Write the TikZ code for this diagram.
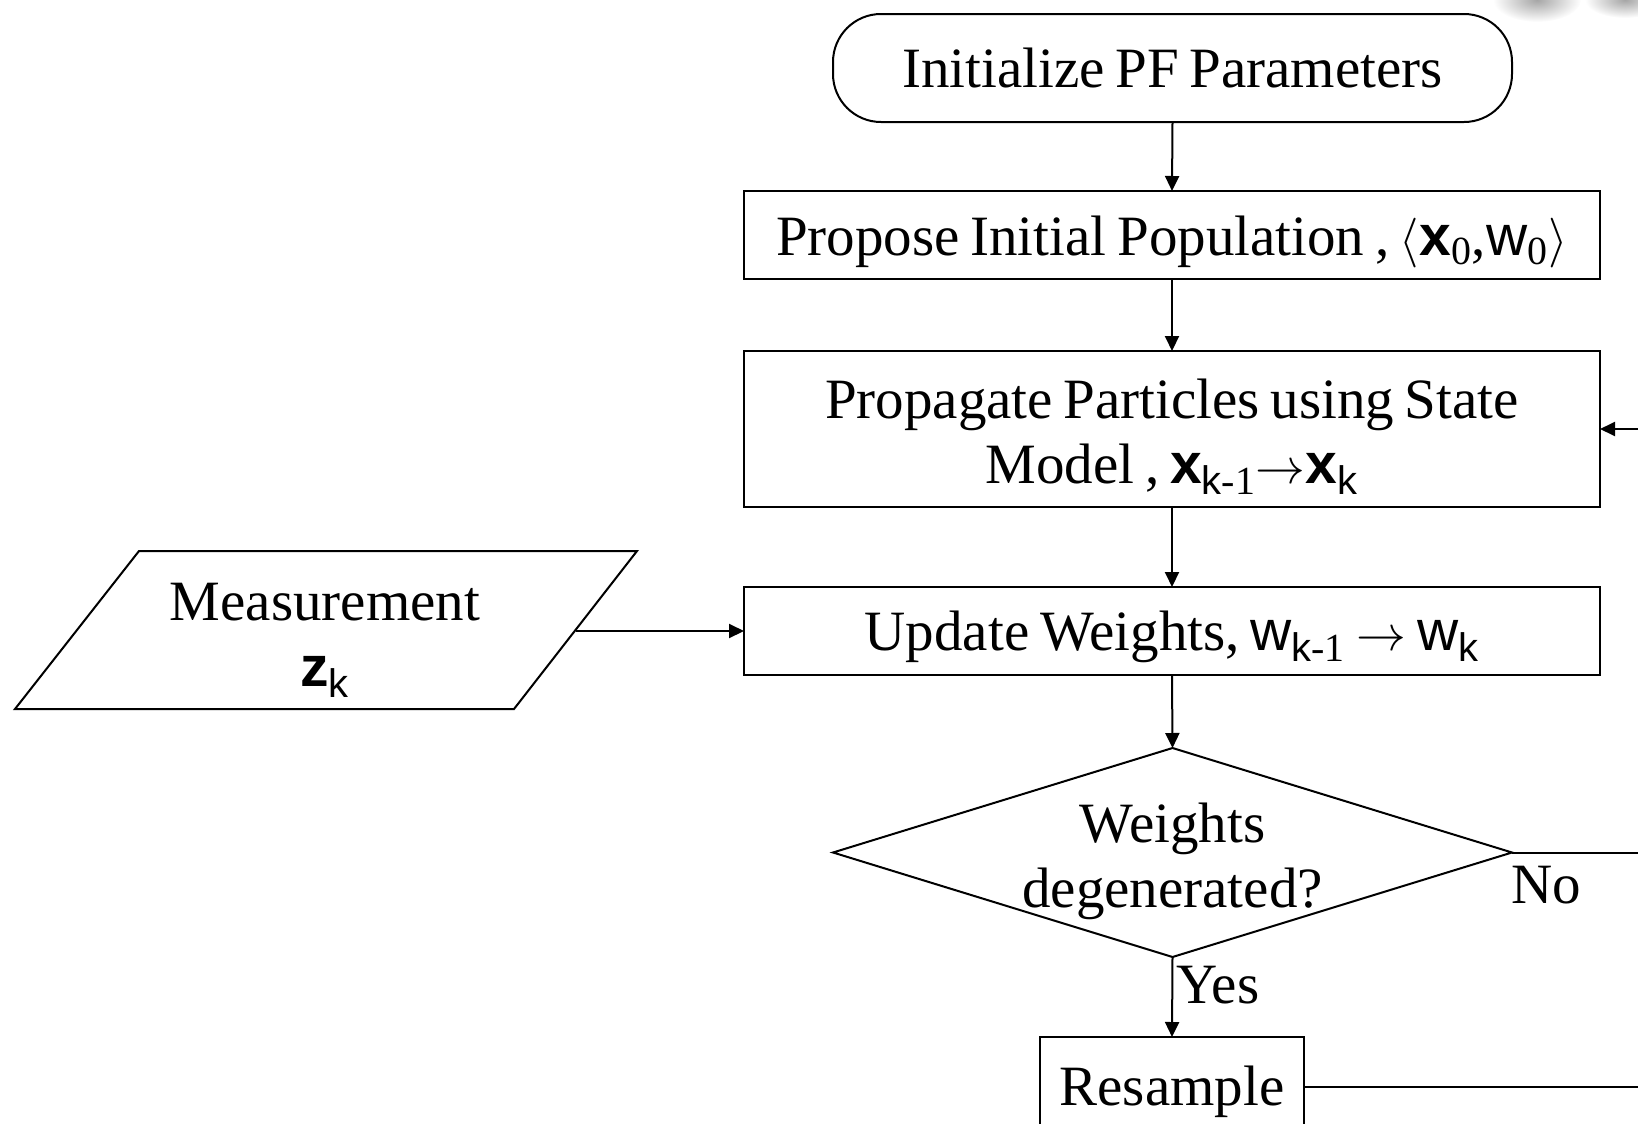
\documentclass[tikz,border=0pt]{standalone}
\usepackage{fontspec}
\setmainfont[WordSpace=0.75]{Liberation Serif}
\setsansfont{Liberation Sans}
\usetikzlibrary{shapes.geometric,arrows.meta}

% vector and weight symbols with their subscripts
\newcommand\vx{\textsf{\bfseries x}}
\newcommand\vz{\textsf{\bfseries z}}
\newcommand\vw{\textsf{w}}
\newcommand\sk{\textsubscript{\sffamily k}}
\newcommand\skm{\textsubscript{{\sffamily k}-1}}
\newcommand\szero{\textsubscript{0}}

\begin{document}
\begin{tikzpicture}[x=0.5pt,y=-0.5pt,line width=1pt,
  txt/.style={anchor=base,inner sep=0pt,font=\fontsize{28.5}{31.5}\selectfont},
  shp/.style={draw,inner sep=0pt,outer sep=0pt},
  box/.style={shp,rectangle,minimum width=428pt},
  arr/.style={-{Triangle[length=7.5pt,width=7pt]}},
]
\useasboundingbox (0,0) rectangle (1638,1124);
\clip (0,0) rectangle (1638,1124);

% soft grey spots along the top edge
\shade[inner color=black!35,outer color=white] (1537,0) ellipse (22pt and 11pt);
\shade[inner color=black!35,outer color=white] (1625,0) ellipse (20pt and 9pt);

% shapes
\node[shp,rounded corners=24pt,minimum width=339.5pt,minimum height=54pt] (init) at (1172.5,68) {};
\node[box,minimum height=44pt] (prop) at (1172,235) {};
\node[box,minimum height=78pt] (propag) at (1172,429) {};
\node[box,minimum height=44pt] (upd) at (1172,631) {};
\node[shp,diamond,minimum width=339.5pt,minimum height=104.5pt] (dec) at (1172.5,852.5) {};
\node[box,minimum width=132pt,minimum height=50pt] (res) at (1172,1087) {};
\draw (139,551) -- (637,551) -- (514,709) -- (15,709) -- cycle;
\coordinate (measout) at (575.5,631);

% texts
\node[txt] (tinit) at (1172.5,87) {Initialize PF Parameters};
\node[txt] (tprop) at (1172,255) {Propose Initial Population , $\langle$\vx\szero,\vw\szero$\rangle$};
\node[txt] (tpropa) at (1172,418) {Propagate Particles using State};
\node[txt] (tpropb) at (1172,483) {Model , \vx\skm$\rightarrow$\vx\sk};
\node[txt] (tupd) at (1172,650) {Update Weights, \vw\skm\ $\rightarrow$ \vw\sk};
\node[txt] (tdeca) at (1172.5,842) {Weights};
\node[txt] (tdecb) at (1172.5,907) {degenerated?};
\node[txt] (tres) at (1172,1105) {Resample};
\node[txt] (tmeasa) at (325,620) {Measurement};
\node[txt] (tmeasb) at (325,686) {\vz\sk};
\node[txt] (tno) at (1546,903) {No};
\node[txt] (tyes) at (1218,1003) {Yes};

% connectors
\draw[arr] (init.south) -- (prop.north);
\draw[arr] (prop.south) -- (propag.north);
\draw[arr] (propag.south) -- (upd.north);
\draw[arr] (upd.south) -- (dec.north);
\draw[arr] (dec.south) -- (res.north);
\draw[arr] (measout) -- (measout -| upd.west);
\coordinate (loop) at (1720,852.5);
\draw (dec.east) -- (loop);
\draw[arr] (res.east) -| (loop) |- (propag.east);
\end{tikzpicture}
\end{document}
